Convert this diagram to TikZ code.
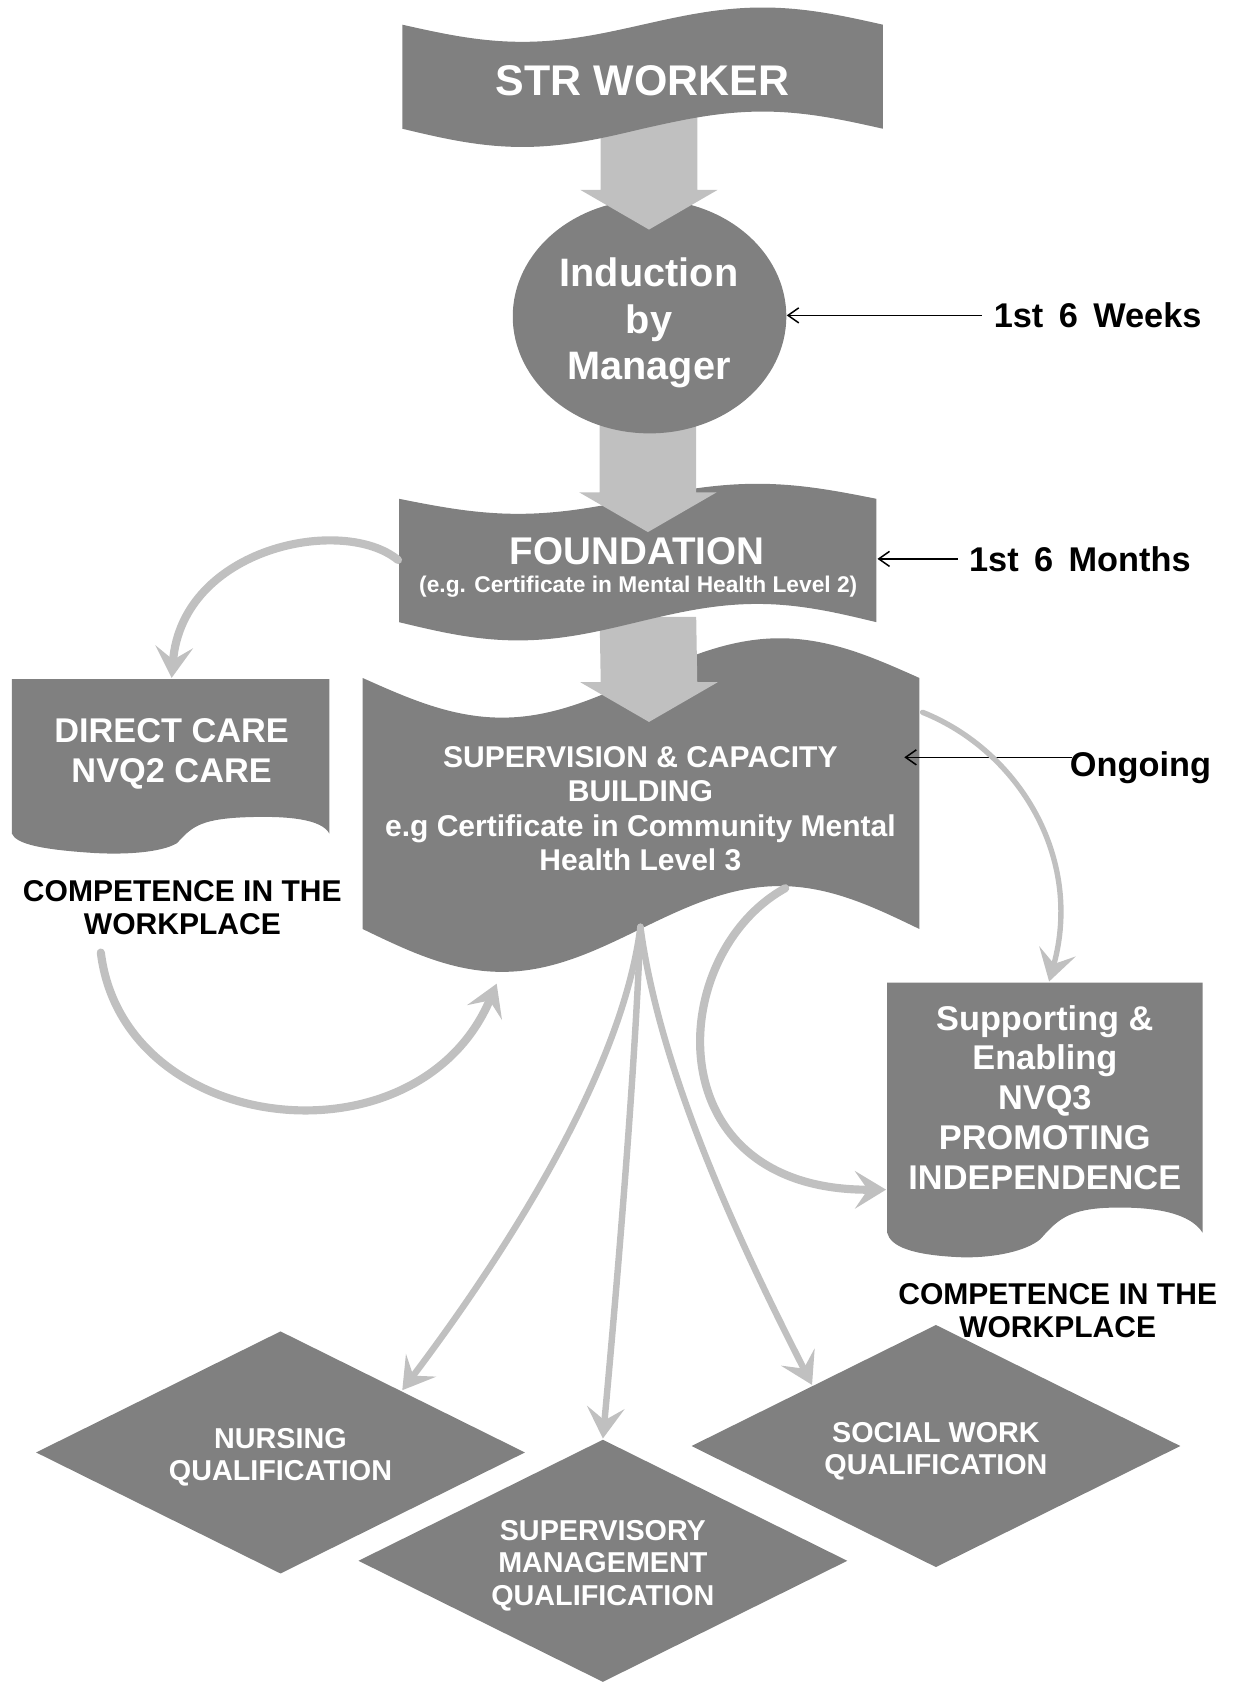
\documentclass[tikz,border=0pt]{standalone}
\usepackage{fontspec}
\setmainfont{Liberation Sans}
\usetikzlibrary{arrows.meta,shapes.geometric,calc}
\definecolor{boxgrey}{RGB}{128,128,128}
\definecolor{arrgrey}{RGB}{192,192,192}
\newcommand{\fs}[2]{\fontsize{#1}{#2}\selectfont}
\newcommand{\lowerstrut}{\rule{0pt}{14pt}}
\newcommand{\blockarr}[2]{%
  \fill[arrgrey] ($(#1)+(-45,0)$) -- ($(#1)+(45,0)$) -- ($(#2)+(45,-37)$) -- ($(#2)+(64,-37)$)
    -- (#2) -- ($(#2)+(-64,-37)$) -- ($(#2)+(-45,-37)$) -- cycle;}
\begin{document}
\begin{tikzpicture}[x=0.5pt,y=-0.5pt,
  wt/.style={text=white,font=\bfseries,align=center,inner sep=0pt},
  bk/.style={text=black,font=\bfseries,align=center,inner sep=0pt},
  shp/.style={fill=boxgrey},
  headtip/.style={-{Stealth[length=14.5pt,width=17.5pt,inset=6pt]}},
  curvearr/.style={draw=arrgrey,line width=3.8pt,line cap=round,headtip},
  fanarr/.style={draw=arrgrey,line width=3pt,line cap=round,headtip},
  slimarr/.style={draw=arrgrey,line width=2.5pt,line cap=round,headtip},
  lbl/.style={draw=black,line width=0.7pt,-{Straight Barb[length=5pt,width=7pt]}},
  dia/.style={diamond,shape aspect=2,fill=boxgrey,inner sep=0pt,minimum width=228pt,minimum height=113pt,text=white,font=\bfseries\fs{13.4}{15},align=center}
]
\useasboundingbox (0,0) rectangle (1152,1568);

% ---- coordinates for connectors
\coordinate (a1s) at (605,100);  \coordinate (a1e) at (605,214);
\coordinate (a2s) at (604,390);  \coordinate (a2e) at (604,496);
\coordinate (a3s) at (604,575);  \coordinate (a3e) at (605,673);

% ---- supervision banner
\fill[shp] (338,632) sin (468,669) cos (597,632) sin (727,595) cos (857,632) -- (857,866)
  sin (727,826) cos (597,866) sin (468,906) cos (338,866) -- cycle;
\blockarr{a3s}{a3e}
% ---- foundation banner
\fill[shp] (372,465) sin (483,479) cos (594,465) sin (706,451) cos (817,465) -- (817,580)
  sin (706,563) cos (594,580) sin (483,597) cos (372,580) -- cycle;
\blockarr{a2s}{a2e}
% ---- induction ellipse
\node[ellipse,fill=boxgrey,minimum width=127.5pt,minimum height=109pt,inner sep=0pt] (induct) at (605.5,295) {};
\blockarr{a1s}{a1e}
% ---- STR banner
\fill[shp] (375,23) sin (487,39) cos (599,23) sin (711,7) cos (823,23) -- (823,120)
  sin (711,104) cos (599,120) sin (487,137) cos (375,120) -- cycle;

% ---- texts in the flow
\node[wt,font=\bfseries\fs{20}{24}] (str) at (599,75) {STR WORKER};
\node[wt,font=\bfseries\fs{18.5}{21.5}] (indtxt) at (605,301) {Induction\\by\\Manager};
\node[wt,font=\bfseries\fs{18}{21}] (found) at (594,514) {FOUNDATION};
\node[wt,font=\bfseries\fs{10.6}{12}] (foundsub) at (595,547) {(e.g. Certificate in Mental Health Level 2)};
\node[wt,font=\bfseries\fs{14}{16}] (superv) at (597,754) {SUPERVISION \& CAPACITY\\BUILDING\\e.g Certificate in Community Mental\\Health Level 3};

% ---- side labels
\node[bk,font=\bfseries\fs{16}{19},anchor=west] (weeks) at (926,294) {1st\hspace{0.45em}6\hspace{0.45em}Weeks};
\node[bk,font=\bfseries\fs{16}{19},anchor=west] (months) at (903,521) {1st\hspace{0.45em}6\hspace{0.45em}Months};
\node[bk,font=\bfseries\fs{16}{19},anchor=west] (ongoing) at (997,716) {Ongoing};
\coordinate (foundR) at (818,521);
\coordinate (supR) at (843,706);
\coordinate (ongL) at (999,706);
\draw[lbl] ([xshift=-5.5pt]weeks.west) -- (weeks.west -| induct.east);
\draw[lbl] ([xshift=-5pt]months.west) -- (foundR);
\draw[lbl] (ongL) -- (supR);

% ---- document boxes
\fill[shp] (11,633) -- (307,633) -- (307,777) .. controls (300,764) and (270,760) .. (225,762)
  .. controls (185,764) and (178,772) .. (165,786) .. controls (150,795) and (115,797) .. (85,795)
  .. controls (40,792) and (15,787) .. (11,777) -- cycle;
\node[wt,font=\bfseries\fs{16}{18.5}] (direct) at (160,703) {DIRECT CARE\\NVQ2 CARE};
\fill[shp] (827,916) -- (1121,916) -- (1121,1149) .. controls (1110,1132) and (1080,1124) .. (1030,1126)
  .. controls (995,1128) and (985,1138) .. (970,1155) .. controls (955,1168) and (920,1173) .. (895,1172)
  .. controls (850,1170) and (830,1162) .. (827,1149) -- cycle;
\node[wt,font=\bfseries\fs{16}{18.5}] (support) at (974,1023) {Supporting \&\\Enabling\\NVQ3\\PROMOTING\\INDEPENDENCE};

\node[bk,font=\bfseries\fs{14}{15.5}] (comp1) at (170,846) {COMPETENCE IN THE\\WORKPLACE};
\node[bk,font=\bfseries\fs{14}{15.5}] (comp2) at (986,1222) {COMPETENCE IN THE\\WORKPLACE};

% ---- diamonds
\node[dia] (nurs) at (261.5,1354) {\lowerstrut NURSING\\QUALIFICATION};
\node[dia] (supmgmt) at (562,1455) {\lowerstrut SUPERVISORY\\MANAGEMENT\\QUALIFICATION};
\node[dia] (social) at (872.5,1348) {\lowerstrut SOCIAL WORK\\QUALIFICATION};

% ---- curved connectors
\coordinate (foundL) at (371,522);
\coordinate (directT) at (160,632);
\coordinate (supRs) at (860,664);
\coordinate (supportT) at (978,915);
\coordinate (supB) at (732,828);
\coordinate (supportL) at (826,1109);
\coordinate (compS) at (94,888);
\coordinate (supBL) at (463,917);
\coordinate (fan) at (597,864);
\coordinate (nursT) at (375,1296);
\coordinate (supmT) at (562,1341);
\coordinate (socT) at (757,1291);

\draw[curvearr] (foundL) .. controls (320,480) and (170,510) .. (directT);
\draw[slimarr] (supRs) .. controls (950,700) and (1010,800) .. (supportT);
\draw[curvearr] (supB) .. controls (620,890) and (610,1110) .. (supportL);
\draw[curvearr] (compS) .. controls (115,1060) and (390,1090) .. (supBL);
\draw[fanarr] (fan) .. controls (580,1000) and (470,1170) .. (nursT);
\draw[fanarr] (fan) .. controls (592,1000) and (575,1200) .. (supmT);
\draw[fanarr] (fan) .. controls (615,1000) and (690,1160) .. (socT);
\end{tikzpicture}
\end{document}
